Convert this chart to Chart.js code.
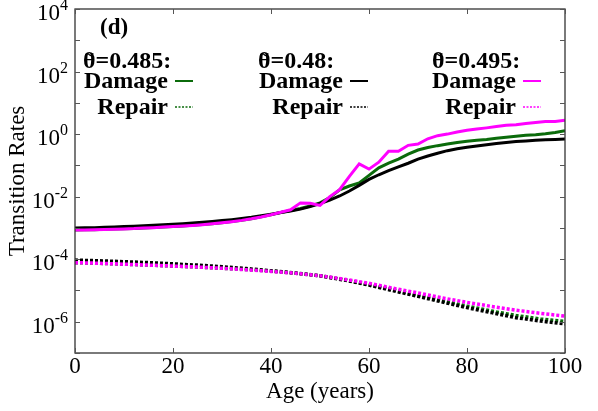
<!DOCTYPE html>
<html>
<head>
<meta charset="utf-8">
<script src="https://cdn.jsdelivr.net/npm/chart.js@4"></script>
<style>
  body { margin: 0; background: #fff; }
  #wrap { width: 598px; height: 411px; position: relative; }
</style>
</head>
<body>
<div id="wrap"><canvas id="rates"></canvas></div>
<script>
// ages (years) for damage curves
const ages = [0,2,4,6,8,10,12,14,16,18,20,22,24,26,28,30,32,34,36,38,40,42,44,46,48,50,
  52,54,56,58,60,62,64,66,68,70,72,74,76,78,80,82,84,86,88,90,92,94,96,98,100];
// ages (years) for repair curves
const repairAges = [0,5,10,15,20,25,30,35,40,45,50,55,60,65,70,75,80,85,90,95,100];

// theta = 0.485 (green)
const damage485 = [8.6e-4,8.7e-4,8.8e-4,9.0e-4,9.2e-4,9.4e-4,9.6e-4,1.0e-3,1.03e-3,1.07e-3,1.11e-3,
  1.16e-3,1.21e-3,1.28e-3,1.36e-3,1.46e-3,1.59e-3,1.75e-3,1.96e-3,2.25e-3,2.62e-3,3.1e-3,3.6e-3,
  4.17e-3,5.01e-3,6.31e-3,9.33e-3,1.66e-2,2.19e-2,2.75e-2,4.79e-2,8.32e-2,0.117,0.158,0.229,0.309,
  0.372,0.427,0.479,0.537,0.589,0.631,0.676,0.741,0.794,0.851,0.912,0.955,1.02,1.12,1.29];
const repair485 = [7.76e-5,7.41e-5,6.92e-5,6.46e-5,6.03e-5,5.62e-5,5.13e-5,4.68e-5,4.17e-5,3.55e-5,
  2.95e-5,2.19e-5,1.55e-5,1.05e-5,6.92e-6,4.68e-6,3.16e-6,2.19e-6,1.58e-6,1.23e-6,1.02e-6];

// theta = 0.48 (black)
const damage48 = [1.0e-3,1.01e-3,1.02e-3,1.05e-3,1.07e-3,1.1e-3,1.14e-3,1.17e-3,1.22e-3,1.26e-3,1.3e-3,
  1.36e-3,1.43e-3,1.51e-3,1.6e-3,1.72e-3,1.84e-3,2.0e-3,2.19e-3,2.45e-3,2.75e-3,3.09e-3,3.47e-3,
  3.98e-3,4.79e-3,6.03e-3,7.76e-3,1.05e-2,1.51e-2,2.29e-2,3.55e-2,5.01e-2,6.76e-2,8.91e-2,0.117,0.158,
  0.2,0.245,0.295,0.339,0.38,0.417,0.457,0.501,0.537,0.575,0.603,0.631,0.661,0.676,0.692];
const repair48 = [9.33e-5,8.91e-5,8.32e-5,7.76e-5,7.08e-5,6.46e-5,5.75e-5,5.01e-5,4.27e-5,3.63e-5,
  2.95e-5,2.14e-5,1.48e-5,9.77e-6,6.46e-6,4.27e-6,2.82e-6,1.95e-6,1.35e-6,1.05e-6,8.51e-7];

// theta = 0.495 (magenta)
const damage495 = [8.5e-4,8.6e-4,8.7e-4,8.9e-4,9.1e-4,9.3e-4,9.5e-4,9.9e-4,1.02e-3,1.06e-3,1.1e-3,
  1.15e-3,1.2e-3,1.27e-3,1.35e-3,1.45e-3,1.58e-3,1.74e-3,1.95e-3,2.24e-3,2.63e-3,3.16e-3,3.8e-3,
  6.31e-3,6.17e-3,5.25e-3,1.0e-2,1.66e-2,4.47e-2,0.112,0.0759,0.126,0.282,0.282,0.437,0.479,
  0.708,0.891,1.0,1.17,1.32,1.45,1.58,1.74,1.91,2.0,2.19,2.34,2.51,2.51,2.75];
const repair495 = [7.76e-5,7.41e-5,6.92e-5,6.46e-5,6.03e-5,5.62e-5,5.13e-5,4.57e-5,4.07e-5,3.55e-5,
  2.95e-5,2.29e-5,1.7e-5,1.17e-5,8.32e-6,5.75e-6,4.17e-6,3.09e-6,2.34e-6,1.86e-6,1.51e-6];

const xTicks = [0, 20, 40, 60, 80, 100];
const yDecades = [-7,-6,-5,-4,-3,-2,-1,0,1,2,3,4];
const yLabelExps = [4, 2, 0, -2, -4, -6];

const GREEN = '#0b6b0b', BLACK = '#000000', MAGENTA = '#ff00ff';
const SERIF = '"Liberation Serif", "Times New Roman", serif';

const pts = (xs, ys) => xs.map((x, i) => ({ x: x, y: ys[i] }));
const solid = (label, xs, ys, color) => ({
  label, data: pts(xs, ys), borderColor: color, borderWidth: 3,
  pointRadius: 0, tension: 0, fill: false
});
const dotted = (label, xs, ys, color) => ({
  label, data: pts(xs, ys), borderColor: color, borderWidth: 3.5,
  borderDash: [3, 2], borderCapStyle: 'butt', pointRadius: 0, tension: 0, fill: false
});

// axes, ticks, labels and key drawn by hand with the chart's scales
const decorations = {
  id: 'decorations',
  afterDraw(chart) {
    const ctx = chart.ctx;
    const xs = chart.scales.x, ys = chart.scales.y;
    const a = chart.chartArea;
    ctx.save();

    // frame
    ctx.strokeStyle = '#333';
    ctx.lineWidth = 1.3;
    ctx.strokeRect(a.left, a.top, a.right - a.left, a.bottom - a.top);

    // x ticks
    ctx.lineWidth = 1;
    ctx.strokeStyle = '#555';
    ctx.fillStyle = '#000';
    ctx.font = '23px ' + SERIF;
    ctx.textAlign = 'center';
    ctx.textBaseline = 'alphabetic';
    xTicks.forEach(v => {
      const px = Math.round(xs.getPixelForValue(v)) + 0.5;
      ctx.beginPath();
      ctx.moveTo(px, a.bottom); ctx.lineTo(px, a.bottom - 5);
      ctx.moveTo(px, a.top); ctx.lineTo(px, a.top + 5);
      ctx.stroke();
      ctx.fillText(String(v), xs.getPixelForValue(v), a.bottom + 20);
    });

    // y ticks at each decade
    yDecades.forEach(e => {
      const py = Math.round(ys.getPixelForValue(Math.pow(10, e))) + 0.5;
      ctx.beginPath();
      ctx.moveTo(a.left, py); ctx.lineTo(a.left + 5, py);
      ctx.moveTo(a.right, py); ctx.lineTo(a.right - 5, py);
      ctx.stroke();
    });

    // y labels 10^n
    yLabelExps.forEach(e => {
      const py = ys.getPixelForValue(Math.pow(10, e));
      const exp = String(e);
      ctx.font = '23px ' + SERIF;
      const wBase = ctx.measureText('10').width;
      ctx.font = '16px ' + SERIF;
      const wExp = ctx.measureText(exp).width;
      const right = a.left - 7;
      ctx.textAlign = 'left';
      ctx.font = '23px ' + SERIF;
      ctx.fillText('10', right - wExp - wBase, py + 11);
      ctx.font = '16px ' + SERIF;
      ctx.fillText(exp, right - wExp, py + 1);
    });

    // axis titles
    ctx.font = '23px ' + SERIF;
    ctx.textAlign = 'center';
    ctx.fillText('Age (years)', (a.left + a.right) / 2, 398);
    ctx.save();
    ctx.translate(24, (a.top + a.bottom) / 2);
    ctx.rotate(-Math.PI / 2);
    ctx.fillText('Transition Rates', 0, 0);
    ctx.restore();

    // panel tag and key
    ctx.font = 'bold 23px ' + SERIF;
    ctx.textAlign = 'left';
    ctx.fillText('(d)', 100, 34);

    const groups = [
      { value: '=0.485:', left: 83, right: 168, color: GREEN },
      { value: '=0.48:', left: 258, right: 343, color: BLACK },
      { value: '=0.495:', left: 432, right: 516, color: MAGENTA }
    ];
    groups.forEach(g => {
      ctx.fillStyle = '#000';
      ctx.font = 'bold 24px ' + SERIF;
      ctx.textAlign = 'left';
      // theta with a tilde on top
      ctx.fillText('θ', g.left, 68);
      const wTheta = ctx.measureText('θ').width;
      ctx.fillText(g.value, g.left + wTheta, 68);
      ctx.font = 'bold 17px ' + SERIF;
      ctx.textAlign = 'center';
      ctx.fillText('~', g.left + wTheta / 2, 60);

      ctx.font = 'bold 24px ' + SERIF;
      ctx.textAlign = 'right';
      ctx.fillText('Damage', g.right, 88);
      ctx.fillText('Repair', g.right, 114);
      ctx.strokeStyle = g.color;
      ctx.setLineDash([]);
      ctx.lineWidth = 2;
      ctx.beginPath();
      ctx.moveTo(g.right + 7, 81); ctx.lineTo(g.right + 25, 81);
      ctx.stroke();
      ctx.setLineDash([2, 1.5]);
      ctx.lineWidth = 1.5;
      ctx.beginPath();
      ctx.moveTo(g.right + 7, 107); ctx.lineTo(g.right + 25, 107);
      ctx.stroke();
      ctx.setLineDash([]);
    });

    ctx.restore();
  }
};

new Chart(document.getElementById('rates').getContext('2d'), {
  type: 'line',
  data: {
    datasets: [
      solid('Damage 0.495', ages, damage495, MAGENTA),
      dotted('Repair 0.495', repairAges, repair495, MAGENTA),
      solid('Damage 0.48', ages, damage48, BLACK),
      dotted('Repair 0.48', repairAges, repair48, BLACK),
      solid('Damage 0.485', ages, damage485, GREEN),
      dotted('Repair 0.485', repairAges, repair485, GREEN)
    ]
  },
  options: {
    responsive: true,
    maintainAspectRatio: false,
    animation: false,
    layout: { padding: { left: 75, right: 33, top: 9, bottom: 58 } },
    plugins: { legend: { display: false }, tooltip: { enabled: false } },
    scales: {
      x: { type: 'linear', min: 0, max: 100, display: false },
      y: { type: 'logarithmic', min: 1e-7, max: 1e4, display: false }
    }
  },
  plugins: [decorations]
});
</script>
</body>
</html>
